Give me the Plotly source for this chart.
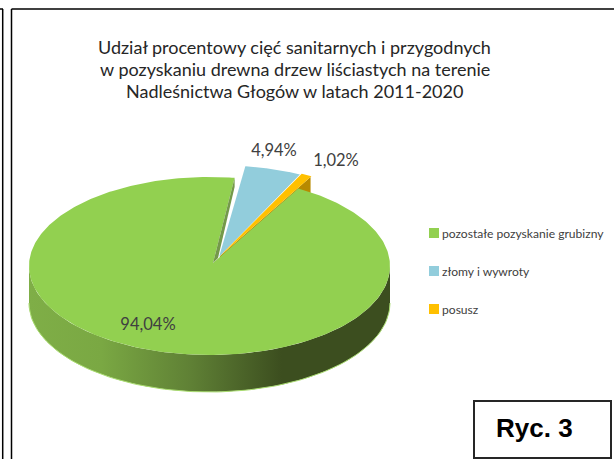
import numpy as np
import plotly.graph_objects as go

categories = ["pozostałe pozyskanie grubizny", "złomy i wywroty", "posusz"]
values = [94.04, 4.94, 1.02]
value_labels = ["94,04%", "4,94%", "1,02%"]
title_lines = ["Udział procentowy cięć sanitarnych i przygodnych",
               "w pozyskaniu drewna drzew liściastych na terenie",
               "Nadleśnictwa Głogów w latach 2011-2020"]
colors = ["#92d050", "#92cddc", "#ffc000"]

W, H = 614, 459
CX, CY, RX, RY, DEPTH = 209.5, 266, 180.5, 89, 37
START = 8.0
FONT = "Lato"

shares = np.array(values) / sum(values) * 360
ang_blue = (START, START + shares[1])
ang_orange = (ang_blue[1], ang_blue[1] + shares[2])
ang_green = (ang_orange[1], ang_orange[1] + shares[0])


def pt(cx, cy, deg, r=1.0):
    t = np.radians(deg)
    return cx + r * RX * np.sin(t), cy - r * RY * np.cos(t)


def arc(cx, cy, a, b, r=1.0, n=120):
    return pt(cx, cy, np.linspace(a, b, n), r)


fig = go.Figure()


def poly(xs, ys, color, **kw):
    fig.add_trace(go.Scatter(x=list(xs), y=list(ys), mode="lines", fill="toself",
                             fillcolor=color, line=dict(width=0), hoverinfo="skip",
                             showlegend=False, **kw))


# exploded small slices
BX, BY = 219, 257
OX, OY = 220, 256
# orange cut wall (behind the green top)
ox, oy = pt(OX, OY, ang_orange[1], 1.02)
poly([OX, ox, ox, OX], [OY, oy, oy + DEPTH, OY + DEPTH], "#b88a00")

# green outer wall with horizontal gradient
ax, ay = arc(CX, CY, 90, 270)
wx = np.concatenate([ax, ax[::-1]])
wy = np.concatenate([ay, ay[::-1] + DEPTH])
fig.add_trace(go.Scatter(
    x=wx, y=wy, mode="lines", fill="toself", line=dict(width=0), hoverinfo="skip",
    showlegend=False,
    fillgradient=dict(type="horizontal", colorscale=[
        [0.0, "#7fae47"], [0.2, "#7aa843"], [0.45, "#5f8035"], [0.7, "#3c4e1f"],
        [1.0, "#3c4e1f"]])))
# light rim at the base
rx_, ry_ = arc(CX, CY + DEPTH, 90, 270)
fig.add_trace(go.Scatter(x=rx_, y=ry_, mode="lines", line=dict(width=1, color="#a9dc70"),
                         hoverinfo="skip", showlegend=False))

# green top face
gx, gy = arc(CX, CY, ang_green[0], ang_green[1], n=400)
AX, AY = 213, 263
poly(np.r_[AX, gx, AX], np.r_[AY, gy, AY], colors[0])

# green cut wall seen in the gap
ex, ey = pt(CX, CY, ang_green[1])
poly([AX, ex, ex, AX + 5], [AY, ey, ey + DEPTH * 0.25, AY - 5], "#74994a")

# blue slice
bx, by = arc(BX, BY, ang_blue[0], ang_blue[1], 1.03)
poly(np.r_[BX, bx, BX], np.r_[BY, by, BY], colors[1])
# orange slice
ox2, oy2 = arc(OX, OY, ang_orange[0], ang_orange[1], 1.03)
poly(np.r_[OX, ox2, OX], np.r_[OY, oy2, OY], colors[2])

# value labels
fig.add_trace(go.Scatter(x=[148, 274, 336], y=[326, 152, 162], mode="text", text=value_labels,
                         textfont=dict(family=FONT, size=16.5, color="#404040"),
                         hoverinfo="skip", showlegend=False))

# legend
ly = [233, 271, 309]
fig.add_trace(go.Scatter(x=[434] * 3, y=ly, mode="markers",
                         marker=dict(symbol="square", size=10, color=colors), hoverinfo="skip",
                         showlegend=False))
for y, c in zip(ly, categories):
    fig.add_annotation(x=439.5, y=y, text=c, showarrow=False, xanchor="left", yanchor="middle",
                       font=dict(family=FONT, size=12.1, color="#404040"))

# title
for y, t in zip([47, 69, 91], title_lines):
    fig.add_annotation(x=294.5, y=y, text=t, showarrow=False, xanchor="center", yanchor="middle",
                       font=dict(family=FONT, size=18, color="#262626"))

# frames
line = dict(color="black", width=1.5)
shapes = [
    dict(type="line", x0=0, x1=3, y0=9, y1=9, line=line),
    dict(type="line", x0=2.7, x1=2.7, y0=9, y1=459, line=line),
    dict(type="line", x0=11.5, x1=11.5, y0=9, y1=459, line=line),
    dict(type="line", x0=11.5, x1=614, y0=9, y1=9, line=line),
    dict(type="rect", x0=474, x1=611, y0=401, y1=458, line=dict(color="#262626", width=2),
         fillcolor="white"),
]
fig.add_annotation(x=534.5, y=428, text="Ryc. 3", showarrow=False, xanchor="center", yanchor="middle",
                   font=dict(family="Liberation Sans", size=26, color="black", weight="bold"))

fig.update_layout(
    width=W, height=H, margin=dict(l=0, r=0, t=0, b=0), paper_bgcolor="white", plot_bgcolor="white",
    showlegend=False, shapes=shapes,
    xaxis=dict(range=[0, W], visible=False, fixedrange=True),
    yaxis=dict(range=[H, 0], visible=False, fixedrange=True),
)
fig.write_html("out.html", config=dict(displayModeBar=False),
               post_script="document.body.style.margin='0';document.documentElement.style.overflow='hidden';")
